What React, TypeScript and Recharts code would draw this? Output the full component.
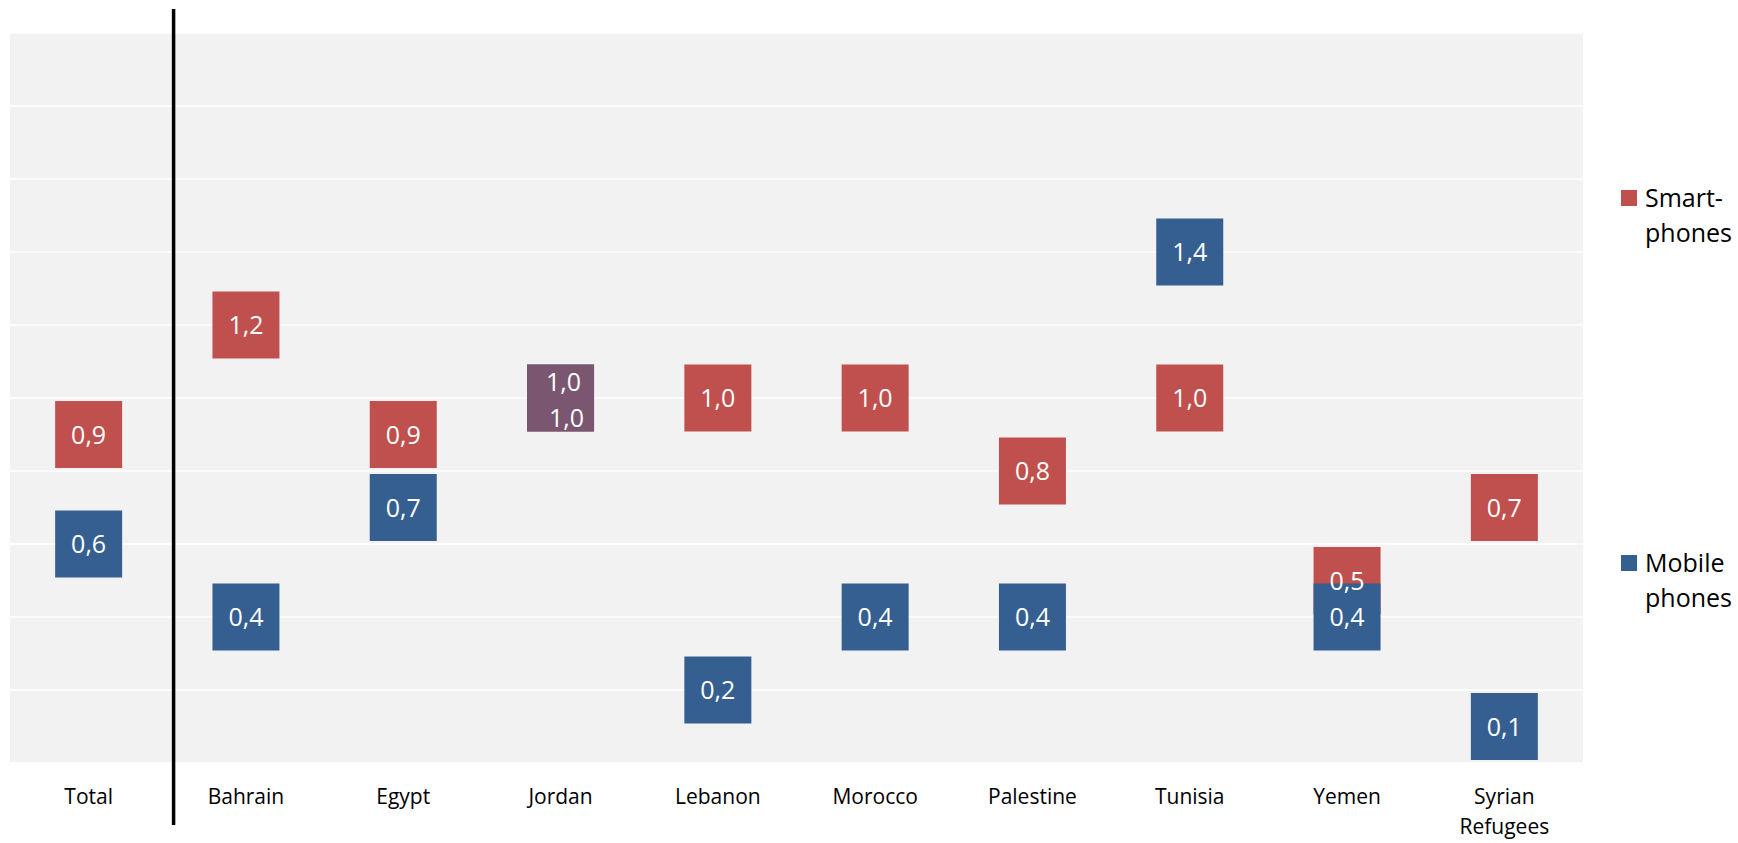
import React from "react";
import {
  CartesianGrid,
  Legend,
  ReferenceLine,
  Scatter,
  ScatterChart,
  XAxis,
  YAxis,
} from "recharts";

const categories = [
  "Total",
  "Bahrain",
  "Egypt",
  "Jordan",
  "Lebanon",
  "Morocco",
  "Palestine",
  "Tunisia",
  "Yemen",
  "Syrian Refugees",
];
const smartphones = [0.9, 1.2, 0.9, 1.0, 1.0, 1.0, 0.8, 1.0, 0.5, 0.7];
const mobilePhones = [0.6, 0.4, 0.7, 1.0, 0.2, 0.4, 0.4, 1.4, 0.4, 0.1];
const yTicks = [0, 0.2, 0.4, 0.6, 0.8, 1.0, 1.2, 1.4, 1.6, 1.8, 2.0];

const RED = "#C0504D";
const BLUE = "#365F91";
const OVERLAP = "#7B5670";
const FONT = "'Open Sans', sans-serif";
const BOX = 67;

const smartPts = categories.map((c, i) => ({ x: i, y: smartphones[i], other: mobilePhones[i] }));
const mobilePts = categories.map((c, i) => ({ x: i, y: mobilePhones[i], other: smartphones[i] }));

const fmt = (v: number) => v.toFixed(1).replace(".", ",");

const square = (color: string) => (props: any) => {
  const { cx, cy, payload } = props;
  const fill = payload.y === payload.other ? OVERLAP : color;
  return <rect x={cx - BOX / 2} y={cy - BOX / 2} width={BOX} height={BOX} fill={fill} />;
};

// labels for coinciding points get pushed apart (upper = smartphones)
const label = (upper: boolean) => (props: any) => {
  const { cx, cy, payload } = props;
  let dx = 0;
  let dy = 0;
  if (payload.y === payload.other) {
    dx = upper ? 3 : 6;
    dy = upper ? -16 : 20;
  }
  return (
    <text
      x={cx + dx}
      y={cy + dy + 9}
      textAnchor="middle"
      fill="#FFFFFF"
      fontSize={25}
      fontFamily={FONT}
    >
      {fmt(payload.y)}
    </text>
  );
};

const CategoryTick = (props: any) => {
  const { x, y, payload } = props;
  const words = String(categories[payload.value] ?? "").split(" ");
  return (
    <text x={x} y={y + 41} textAnchor="middle" fill="#000" fontSize={21} fontFamily={FONT}>
      {words.map((w, i) => (
        <tspan key={i} x={x} dy={i === 0 ? 0 : 30}>
          {w}
        </tspan>
      ))}
    </text>
  );
};

const legendItems = [
  { lines: ["Smart-", "phones"], color: RED, top: 180 },
  { lines: ["Mobile", "phones"], color: BLUE, top: 545 },
];

const renderLegend = () => (
  <div style={{ position: "relative", width: 128, height: 843, fontFamily: FONT }}>
    {legendItems.map((it) => (
      <div key={it.lines[0]} style={{ position: "absolute", left: 0, top: it.top }}>
        <div
          style={{
            position: "absolute",
            left: 11,
            top: 10,
            width: 16,
            height: 16,
            background: it.color,
          }}
        />
        <div
          style={{
            position: "absolute",
            left: 35,
            top: 0,
            fontSize: 25,
            lineHeight: "35px",
            color: "#000",
            whiteSpace: "nowrap",
          }}
        >
          {it.lines.map((l) => (
            <div key={l}>{l}</div>
          ))}
        </div>
      </div>
    ))}
  </div>
);

// separator between Total and the countries, running past the plot area
const Divider = (props: any) => {
  const { x1, y1, x2, y2 } = props;
  const top = Math.min(y1, y2);
  const bottom = Math.max(y1, y2);
  return <line x1={x1} x2={x2} y1={top - 24} y2={bottom + 62} stroke="#000" strokeWidth={3.5} />;
};

export default function App() {
  return (
    <div style={{ position: "absolute", left: 0, top: 0, width: 1738, height: 843, background: "#fff" }}>
      <ScatterChart width={1738} height={843} margin={{ top: 33, right: 155, bottom: 0, left: 10 }}>
        <CartesianGrid vertical={false} fill="#F2F2F2" stroke="#FFFFFF" strokeWidth={1.5} />
        <XAxis
          type="number"
          dataKey="x"
          domain={[-0.5, 9.5]}
          ticks={categories.map((c, i) => i)}
          interval={0}
          height={80}
          axisLine={false}
          tickLine={false}
          tickSize={0}
          tickMargin={0}
          tick={<CategoryTick />}
        />
        <YAxis type="number" dataKey="y" domain={[0, 2]} ticks={yTicks} hide width={0} />
        <Legend
          layout="vertical"
          align="center"
          verticalAlign="middle"
          wrapperStyle={{ left: 1610, top: 0, width: 128, height: 843 }}
          content={renderLegend}
        />
        <ReferenceLine x={0.54} shape={<Divider />} />
        <Scatter name="Smart-phones" data={smartPts} fill={RED} shape={square(RED)} isAnimationActive={false} />
        <Scatter name="Mobile phones" data={mobilePts} fill={BLUE} shape={square(BLUE)} isAnimationActive={false} />
        <Scatter data={smartPts} legendType="none" shape={label(true)} isAnimationActive={false} />
        <Scatter data={mobilePts} legendType="none" shape={label(false)} isAnimationActive={false} />
      </ScatterChart>
    </div>
  );
}
